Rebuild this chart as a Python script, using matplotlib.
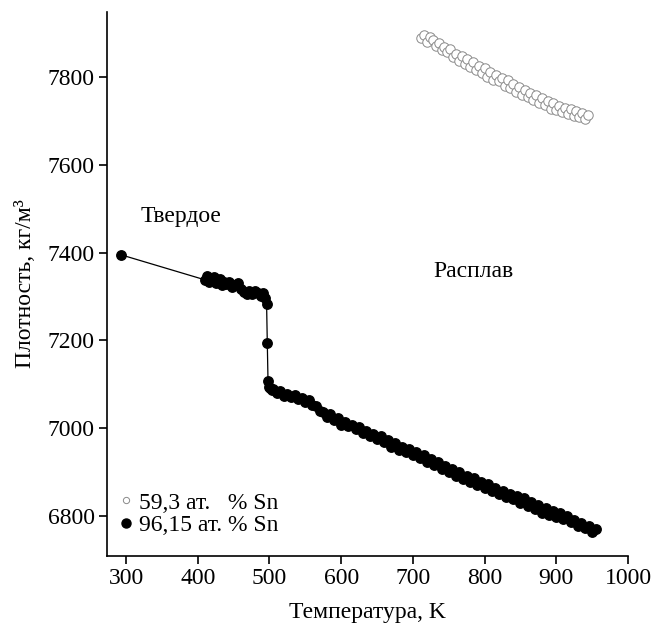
import numpy as np
import matplotlib
matplotlib.use("Agg")
import matplotlib.pyplot as plt
from matplotlib.lines import Line2D

plt.rcParams['font.family'] = ['Liberation Serif', 'DejaVu Serif']

# 96,15 at.% Sn: solid part + melting step + melt
t_sn96 = [293, 410, 413, 416, 419, 422, 425, 428, 431, 434, 437, 440, 444, 448,
          452, 456, 460, 464, 468, 472, 476, 480, 484, 488, 491, 494, 496, 497,
          498, 499, 501, 503,
          505, 510, 515, 520, 525, 530, 535, 540, 545, 550, 555, 560, 565, 570,
          575, 580, 585, 590, 595, 600, 605, 610, 615, 620, 625, 630, 635, 640,
          645, 650, 655, 660, 665, 670, 675, 680, 685, 690, 695, 700, 705, 710,
          715, 720, 725, 730, 735, 740, 745, 750, 755, 760, 765, 770, 775, 780,
          785, 790, 795, 800, 805, 810, 815, 820, 825, 830, 835, 840, 845, 850,
          855, 860, 865, 870, 875, 880, 885, 890, 895, 900, 905, 910, 915, 920,
          925, 930, 935, 940, 945, 950, 955]
rho_sn96 = [7395, 7338, 7346, 7332, 7340, 7344, 7330, 7336, 7340, 7326, 7332, 7328,
            7334, 7322, 7326, 7330, 7316, 7310, 7306, 7312, 7306, 7312, 7308, 7302,
            7308, 7296, 7284, 7193, 7107, 7094, 7092, 7086,
            7090, 7080, 7084, 7074, 7078, 7070, 7076, 7066, 7068, 7060, 7064, 7052,
            7050, 7040, 7038, 7026, 7032, 7018, 7024, 7008, 7014, 7004, 7008, 6998,
            7002, 6990, 6994, 6982, 6988, 6976, 6982, 6968, 6974, 6958, 6966, 6950,
            6958, 6946, 6952, 6940, 6946, 6932, 6938, 6922, 6930, 6916, 6922, 6908,
            6914, 6900, 6908, 6892, 6900, 6884, 6892, 6878, 6886, 6870, 6878, 6864,
            6872, 6856, 6864, 6850, 6858, 6844, 6850, 6838, 6846, 6830, 6840, 6824,
            6832, 6816, 6826, 6808, 6818, 6802, 6812, 6798, 6806, 6794, 6800, 6786,
            6792, 6778, 6784, 6772, 6778, 6764, 6770]

# 59,3 at.% Sn: melt only
t_sn59 = [712, 716, 720, 724, 728, 732, 736, 740, 744, 748, 752, 756, 760, 764,
          768, 772, 776, 780, 784, 788, 792, 796, 800, 804, 808, 812, 816, 820,
          824, 828, 832, 836, 840, 844, 848, 852, 856, 860, 864, 868, 872, 876,
          880, 884, 888, 892, 896, 900, 904, 908, 912, 916, 920, 924, 928, 932,
          936, 940, 944]
rho_sn59 = [7888, 7896, 7880, 7892, 7884, 7870, 7878, 7862, 7868, 7856, 7864, 7846,
            7852, 7836, 7848, 7830, 7840, 7822, 7834, 7816, 7826, 7808, 7820, 7800,
            7812, 7794, 7804, 7790, 7798, 7780, 7792, 7774, 7784, 7766, 7778, 7760,
            7770, 7754, 7764, 7748, 7760, 7740, 7752, 7736, 7746, 7728, 7740, 7724,
            7734, 7720, 7730, 7716, 7726, 7712, 7722, 7708, 7718, 7704, 7714]

fig = plt.figure(figsize=(6.51, 6.25), dpi=100)
ax = fig.add_axes([0.1644, 0.1104, 0.8003, 0.8704])

ax.plot(t_sn59, rho_sn59, 'o', ms=6.8, mfc='white', mec='#8a8a8a', mew=0.7,
        linestyle='none')
ax.plot(t_sn96, rho_sn96, '-o', color='black', lw=0.9, ms=6.8)

ax.set_xlim(273.5, 1000)
ax.set_ylim(6709, 7948)
ax.set_xticks(np.arange(300, 1001, 100))
ax.set_yticks(np.arange(6800, 7801, 200))
for s in ['top', 'right']:
    ax.spines[s].set_visible(False)
for s in ['left', 'bottom']:
    ax.spines[s].set_linewidth(1.2)
ax.tick_params(direction='out', length=6, width=1.2, labelsize=17, pad=3)

ax.set_xlabel('Температура, K', fontsize=17, labelpad=9)
ax.set_ylabel('Плотность, кг/м³', fontsize=17, labelpad=8)

ax.text(320, 7482, 'Твердое', fontsize=17, va='center')
ax.text(728, 7357, 'Расплав', fontsize=17, va='center')

handles = [
    Line2D([], [], marker='o', ls='none', ms=4.5, mfc='white', mec='#8a8a8a', mew=0.7),
    Line2D([], [], marker='o', ls='none', ms=6.5, color='black'),
]
ax.legend(handles, ['59,3 ат.   % Sn', '96,15 ат. % Sn'], loc='lower left',
          bbox_to_anchor=(-0.005, 0.01), frameon=False, fontsize=17,
          handlelength=0.6, handletextpad=0.25, labelspacing=0.05,
          borderaxespad=0.2)

fig.savefig('out.png', dpi=100)
